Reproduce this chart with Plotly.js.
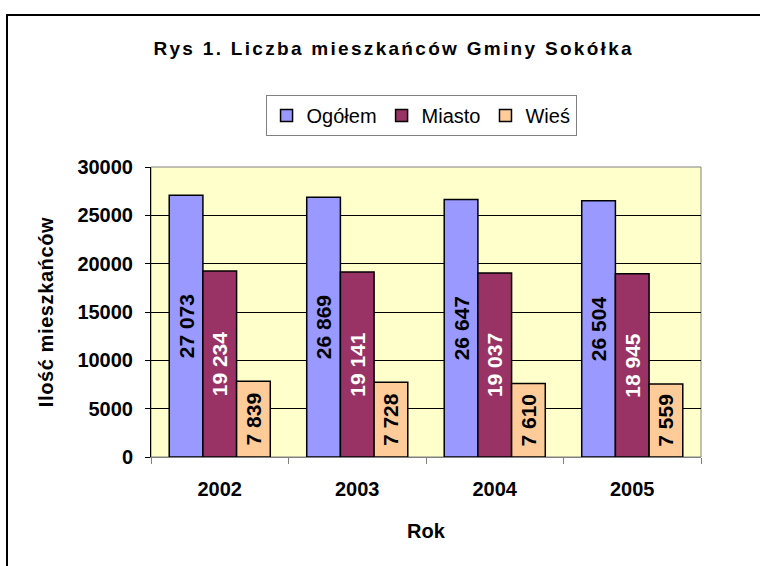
<!DOCTYPE html>
<html>
<head>
<meta charset="utf-8">
<script src="https://cdn.plot.ly/plotly-3.0.1.min.js"></script>
<style>
  html, body { margin: 0; padding: 0; background: #fff; }
  #wrap { position: relative; width: 760px; height: 566px; overflow: hidden; }
  #chart { position: absolute; left: 0; top: 0; width: 760px; height: 566px; }
  #frame { position: absolute; left: 6px; top: 14px; width: 800px; height: 600px;
           border: 2px solid #000; box-sizing: border-box; pointer-events: none; }
  #chart .gtitle { letter-spacing: 2.3px; }
  #chart .ytitle { letter-spacing: 0.6px; }
</style>
</head>
<body>
<div id="wrap">
  <div id="chart"></div>
  <div id="frame"></div>
</div>
<script>
// ---- data ----
const years = ['2002', '2003', '2004', '2005'];
const ogolem = [27073, 26869, 26647, 26504];
const miasto = [19234, 19141, 19037, 18945];
const wies   = [7839, 7728, 7610, 7559];
const seriesNames = ['Ogółem', 'Miasto', 'Wieś'];
const yTicks = [0, 5000, 10000, 15000, 20000, 25000, 30000];

const fmt = v => String(v).replace(/\B(?=(\d{3})+(?!\d))/g, ' ');
const F = 'Liberation Sans, Arial, sans-serif';

function barTrace(name, vals, color, textColor) {
  return {
    type: 'bar', name: name, x: years, y: vals,
    text: vals.map(fmt), textposition: 'inside', insidetextanchor: 'middle',
    textangle: -90, constraintext: 'none',
    textfont: { family: F, size: 21, color: textColor, weight: 'bold' },
    marker: { color: color, line: { color: '#000', width: 1.5 } },
    hoverinfo: 'x+y'
  };
}

const data = [
  barTrace(seriesNames[0], ogolem, '#9999FF', '#000'),
  barTrace(seriesNames[1], miasto, '#993366', '#fff'),
  barTrace(seriesNames[2], wies, '#FFCC99', '#000')
];

const layout = {
  width: 760, height: 566,
  margin: { l: 151, r: 59, t: 167, b: 109 },
  paper_bgcolor: '#fff', plot_bgcolor: '#FFFFCC',
  barmode: 'group', bargap: 0.265, bargroupgap: 0,
  showlegend: true,
  title: { text: 'Rys 1. Liczba mieszkańców Gminy Sokółka',
           font: { family: F, size: 19, color: '#000', weight: 'bold' },
           x: 0.518, xanchor: 'center', y: 1 - 48/566, yanchor: 'middle', xref: 'container', yref: 'container' },
  legend: { orientation: 'h', x: 0.491, xanchor: 'center', y: 1.248, yanchor: 'top',
            bordercolor: '#808080', borderwidth: 1, bgcolor: '#fff',
            font: { family: F, size: 20, color: '#000' }, traceorder: 'normal' },
  xaxis: {
    type: 'category', tickson: 'boundaries', ticks: 'outside', ticklen: 6, tickcolor: '#808080',
    showline: true, linecolor: '#808080', linewidth: 1, showgrid: false,
    tickfont: { family: F, size: 20, color: '#000', weight: 'bold' }, ticklabelstandoff: 14,
    title: { text: 'Rok', font: { family: F, size: 20, color: '#000', weight: 'bold' }, standoff: 24 },
    automargin: false
  },
  yaxis: {
    range: [0, 30000], tickvals: yTicks, tickformat: 'd', ticks: 'outside', ticklen: 5, tickcolor: '#000',
    showline: true, linecolor: '#000', linewidth: 1,
    showgrid: true, gridcolor: '#000', gridwidth: 1, zeroline: false,
    tickfont: { family: F, size: 20, color: '#000', weight: 'bold' }, ticklabelstandoff: 8,
    title: { text: 'Ilość mieszkańców', font: { family: F, size: 20, color: '#000', weight: 'bold' }, standoff: 18 },
    automargin: false
  },
  shapes: [
    { type: 'rect', xref: 'paper', yref: 'paper', x0: 0, x1: 1, y0: 0, y1: 1,
      line: { color: '#808080', width: 1 }, layer: 'below' }
  ]
};

Plotly.newPlot('chart', data, layout, { displayModeBar: false, staticPlot: true });
</script>
</body>
</html>
